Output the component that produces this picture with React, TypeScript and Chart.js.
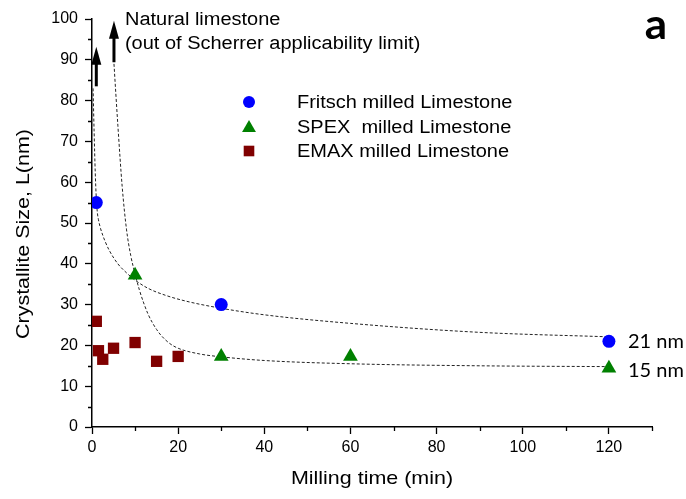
import React, { useEffect, useRef } from 'react';
import { Chart, registerables } from 'chart.js';

Chart.register(...registerables);

// ---- Data ----
const fritschTime = [1, 30, 120];
const fritschSize = [55, 30, 21];
const spexTime = [10, 30, 60, 120];
const spexSize = [37.2, 17.3, 17.3, 14.4];
const emaxTime = [1, 1.5, 2.5, 5, 10, 15, 20];
const emaxSize = [25.9, 18.7, 16.6, 19.3, 20.7, 16.1, 17.3];

// Dashed fitted curves
const fritschFitTime = [0.25, 0.5, 0.75, 1, 1.25, 1.5, 2, 2.5, 3, 4, 6, 8, 10, 13, 17, 22, 30, 40, 60, 90, 120];
const fritschFitSize = [83, 72, 62.5, 56, 52.5, 50.8, 48.6, 47, 45.6, 43.3, 40, 37.8, 36, 34, 32.3, 30.8, 29.1, 27.5, 25.4, 23.2, 22.1];
const spexFitTime = [5.1, 6, 7, 8, 9, 10, 11, 12, 13, 14, 15, 16, 18, 20, 25, 30, 40, 60, 90, 120];
const spexFitSize = [89, 74, 59, 48.5, 42, 37.5, 33.6, 30.4, 27.7, 25.6, 23.9, 22.5, 20.5, 19.3, 17.9, 17.2, 16.3, 15.5, 15.0, 14.8];

// Arrows "Natural limestone"
const arrowTime = [1, 5.1];
const arrowFrom = [83.5, 89.4];
const arrowTo = [93.2, 99.6];

// Labels
const seriesLabels = ['Fritsch milled Limestone', 'SPEX  milled Limestone', 'EMAX milled Limestone'];
const seriesColors = ['#0000FF', '#008000', '#800000'];
const seriesStyles = ['circle', 'triangle', 'rect'];
const endLabels = ['21 nm', '15 nm'];
const endLabelValues = [21, 13.9];
const noteLines = ['Natural limestone', '(out of Scherrer applicability limit)'];
const panelLabel = 'a';
const xTitle = 'Milling time (min)';
const yTitle = 'Crystallite Size, L(nm)';
const xMinorTicks = [10, 30, 50, 70, 90, 110, 130];
const yMinorTicks = [5, 15, 25, 35, 45, 55, 65, 75, 85, 95];

const toXY = (xs: number[], ys: number[]) => xs.map((x, i) => ({ x, y: ys[i] }));

const SANS = '"Liberation Sans", Arial, sans-serif';
const STRETCH = 1.11;

function drawMarker(ctx: CanvasRenderingContext2D, style: string, x: number, y: number, r: number, color: string) {
  ctx.save();
  ctx.fillStyle = color;
  ctx.beginPath();
  if (style === 'circle') {
    ctx.arc(x, y, r, 0, Math.PI * 2);
  } else if (style === 'triangle') {
    ctx.moveTo(x, y - r);
    ctx.lineTo(x + r * 0.866, y + r * 0.5);
    ctx.lineTo(x - r * 0.866, y + r * 0.5);
    ctx.closePath();
  } else {
    const s = r * Math.SQRT1_2;
    ctx.rect(x - s, y - s, 2 * s, 2 * s);
  }
  ctx.fill();
  ctx.restore();
}

function stretchText(ctx: CanvasRenderingContext2D, text: string, x: number, y: number, sx: number, align: CanvasTextAlign, rot = 0) {
  ctx.save();
  ctx.translate(x, y);
  if (rot) ctx.rotate(rot);
  ctx.scale(sx, 1);
  ctx.textAlign = align;
  ctx.textBaseline = 'middle';
  ctx.fillText(text, 0, 0);
  ctx.restore();
}

const decorPlugin = {
  id: 'decor',
  afterDraw(chart: any) {
    const ctx: CanvasRenderingContext2D = chart.ctx;
    const xs = chart.scales.x;
    const ys = chart.scales.y;
    const area = chart.chartArea;
    ctx.save();
    // minor ticks
    ctx.strokeStyle = '#000';
    ctx.lineWidth = 1.3;
    ctx.beginPath();
    xMinorTicks.forEach((v) => {
      const px = Math.round(xs.getPixelForValue(v)) + 0.5;
      ctx.moveTo(px, area.bottom);
      ctx.lineTo(px, area.bottom + 4);
    });
    yMinorTicks.forEach((v) => {
      const py = Math.round(ys.getPixelForValue(v)) + 0.5;
      ctx.moveTo(area.left - 4, py);
      ctx.lineTo(area.left, py);
    });
    ctx.stroke();

    // arrows
    arrowTime.forEach((t, i) => {
      const px = xs.getPixelForValue(t);
      const y0 = ys.getPixelForValue(arrowFrom[i]);
      const y1 = ys.getPixelForValue(arrowTo[i]);
      const headLen = 18;
      const headHalf = 5;
      ctx.strokeStyle = '#000';
      ctx.lineWidth = 3;
      ctx.beginPath();
      ctx.moveTo(px, y0);
      ctx.lineTo(px, y1 + headLen - 2);
      ctx.stroke();
      ctx.fillStyle = '#000';
      ctx.beginPath();
      ctx.moveTo(px, y1);
      ctx.lineTo(px + headHalf, y1 + headLen);
      ctx.lineTo(px - headHalf, y1 + headLen);
      ctx.closePath();
      ctx.fill();
    });

    ctx.fillStyle = '#000';
    // note text
    ctx.font = `18px ${SANS}`;
    const noteX = xs.getPixelForValue(arrowTime[1]) + 11;
    stretchText(ctx, noteLines[0], noteX, 20, STRETCH, 'left');
    stretchText(ctx, noteLines[1], noteX, 44, STRETCH, 'left');

    // legend
    const legX = 249;
    const legY = [102, 127, 151];
    seriesLabels.forEach((lab, i) => {
      const st = seriesStyles[i];
      drawMarker(ctx, st, legX, legY[i] + (st === 'triangle' ? 1 : 0), st === 'rect' ? 7.5 : st === 'triangle' ? 8 : 6, seriesColors[i]);
      ctx.fillStyle = '#000';
      ctx.font = `18px ${SANS}`;
      stretchText(ctx, lab, 297, legY[i] + 1, STRETCH, 'left');
    });

    // axis titles
    ctx.font = `19px ${SANS}`;
    stretchText(ctx, xTitle, (area.left + area.right) / 2, 479, 1.13, 'center');
    stretchText(ctx, yTitle, 24, 234, 1.13, 'center', -Math.PI / 2);

    // end labels
    ctx.font = `20px Lato, sans-serif`;
    endLabels.forEach((lab, i) => {
      stretchText(ctx, lab, xs.getPixelForValue(120) + 19, ys.getPixelForValue(endLabelValues[i]), 1, 'left');
    });

    // panel label
    ctx.font = `bold 42px Lato, sans-serif`;
    stretchText(ctx, panelLabel, 656, 25, 1.05, 'center');
    ctx.restore();
  },
};

export default function App() {
  const ref = useRef<HTMLCanvasElement | null>(null);
  useEffect(() => {
    if (!ref.current) return;
    const fitStyle = {
      type: 'scatter' as const,
      showLine: true,
      pointRadius: 0,
      borderColor: '#222',
      borderWidth: 1,
      borderDash: [3, 2],
      cubicInterpolationMode: 'monotone' as const,
      fill: false,
      order: 2,
    };
    const chart = new Chart(ref.current, {
      type: 'scatter',
      data: {
        datasets: [
          { ...fitStyle, label: 'Fritsch fit', data: toXY(fritschFitTime, fritschFitSize) },
          { ...fitStyle, label: 'SPEX fit', data: toXY(spexFitTime, spexFitSize) },
          {
            label: seriesLabels[0], data: toXY(fritschTime, fritschSize), pointStyle: 'circle',
            pointRadius: 6.5, backgroundColor: seriesColors[0], borderColor: seriesColors[0], borderWidth: 0, order: 1,
          },
          {
            label: seriesLabels[1], data: toXY(spexTime, spexSize), pointStyle: 'triangle',
            pointRadius: 8.5, backgroundColor: seriesColors[1], borderColor: seriesColors[1], borderWidth: 0, order: 1,
          },
          {
            label: seriesLabels[2], data: toXY(emaxTime, emaxSize), pointStyle: 'rect',
            pointRadius: 8, backgroundColor: seriesColors[2], borderColor: seriesColors[2], borderWidth: 0, order: 1,
          },
        ],
      },
      options: {
        responsive: false,
        animation: false,
        layout: { padding: { left: 0, top: 19, right: 34, bottom: 0 } },
        plugins: { legend: { display: false }, tooltip: { enabled: false } },
        scales: {
          x: {
            type: 'linear',
            min: 0,
            max: 130,
            afterFit: (s: any) => { s.height = 72; },
            ticks: { stepSize: 20, includeBounds: false, color: '#000', font: { family: SANS, size: 16 }, padding: 4 },
            grid: { drawOnChartArea: false, drawTicks: true, tickLength: 7, tickColor: '#000', tickWidth: 1.3 },
            border: { display: true, color: '#000', width: 1.5 },
            title: { display: false },
          },
          y: {
            type: 'linear',
            min: 0,
            max: 100,
            afterFit: (s: any) => { s.width = 92; },
            ticks: { stepSize: 10, color: '#000', font: { family: SANS, size: 16 }, padding: 7 },
            grid: { drawOnChartArea: false, drawTicks: true, tickLength: 7, tickColor: '#000', tickWidth: 1.3 },
            border: { display: true, color: '#000', width: 1.5 },
            title: { display: false },
          },
        },
      },
      plugins: [decorPlugin],
    });
    return () => chart.destroy();
  }, []);
  return (
    <div style={{ position: 'fixed', left: 0, top: 0, width: 686, height: 499, background: '#fff' }}>
      <canvas ref={ref} width={686} height={499} style={{ display: 'block' }} />
    </div>
  );
}
